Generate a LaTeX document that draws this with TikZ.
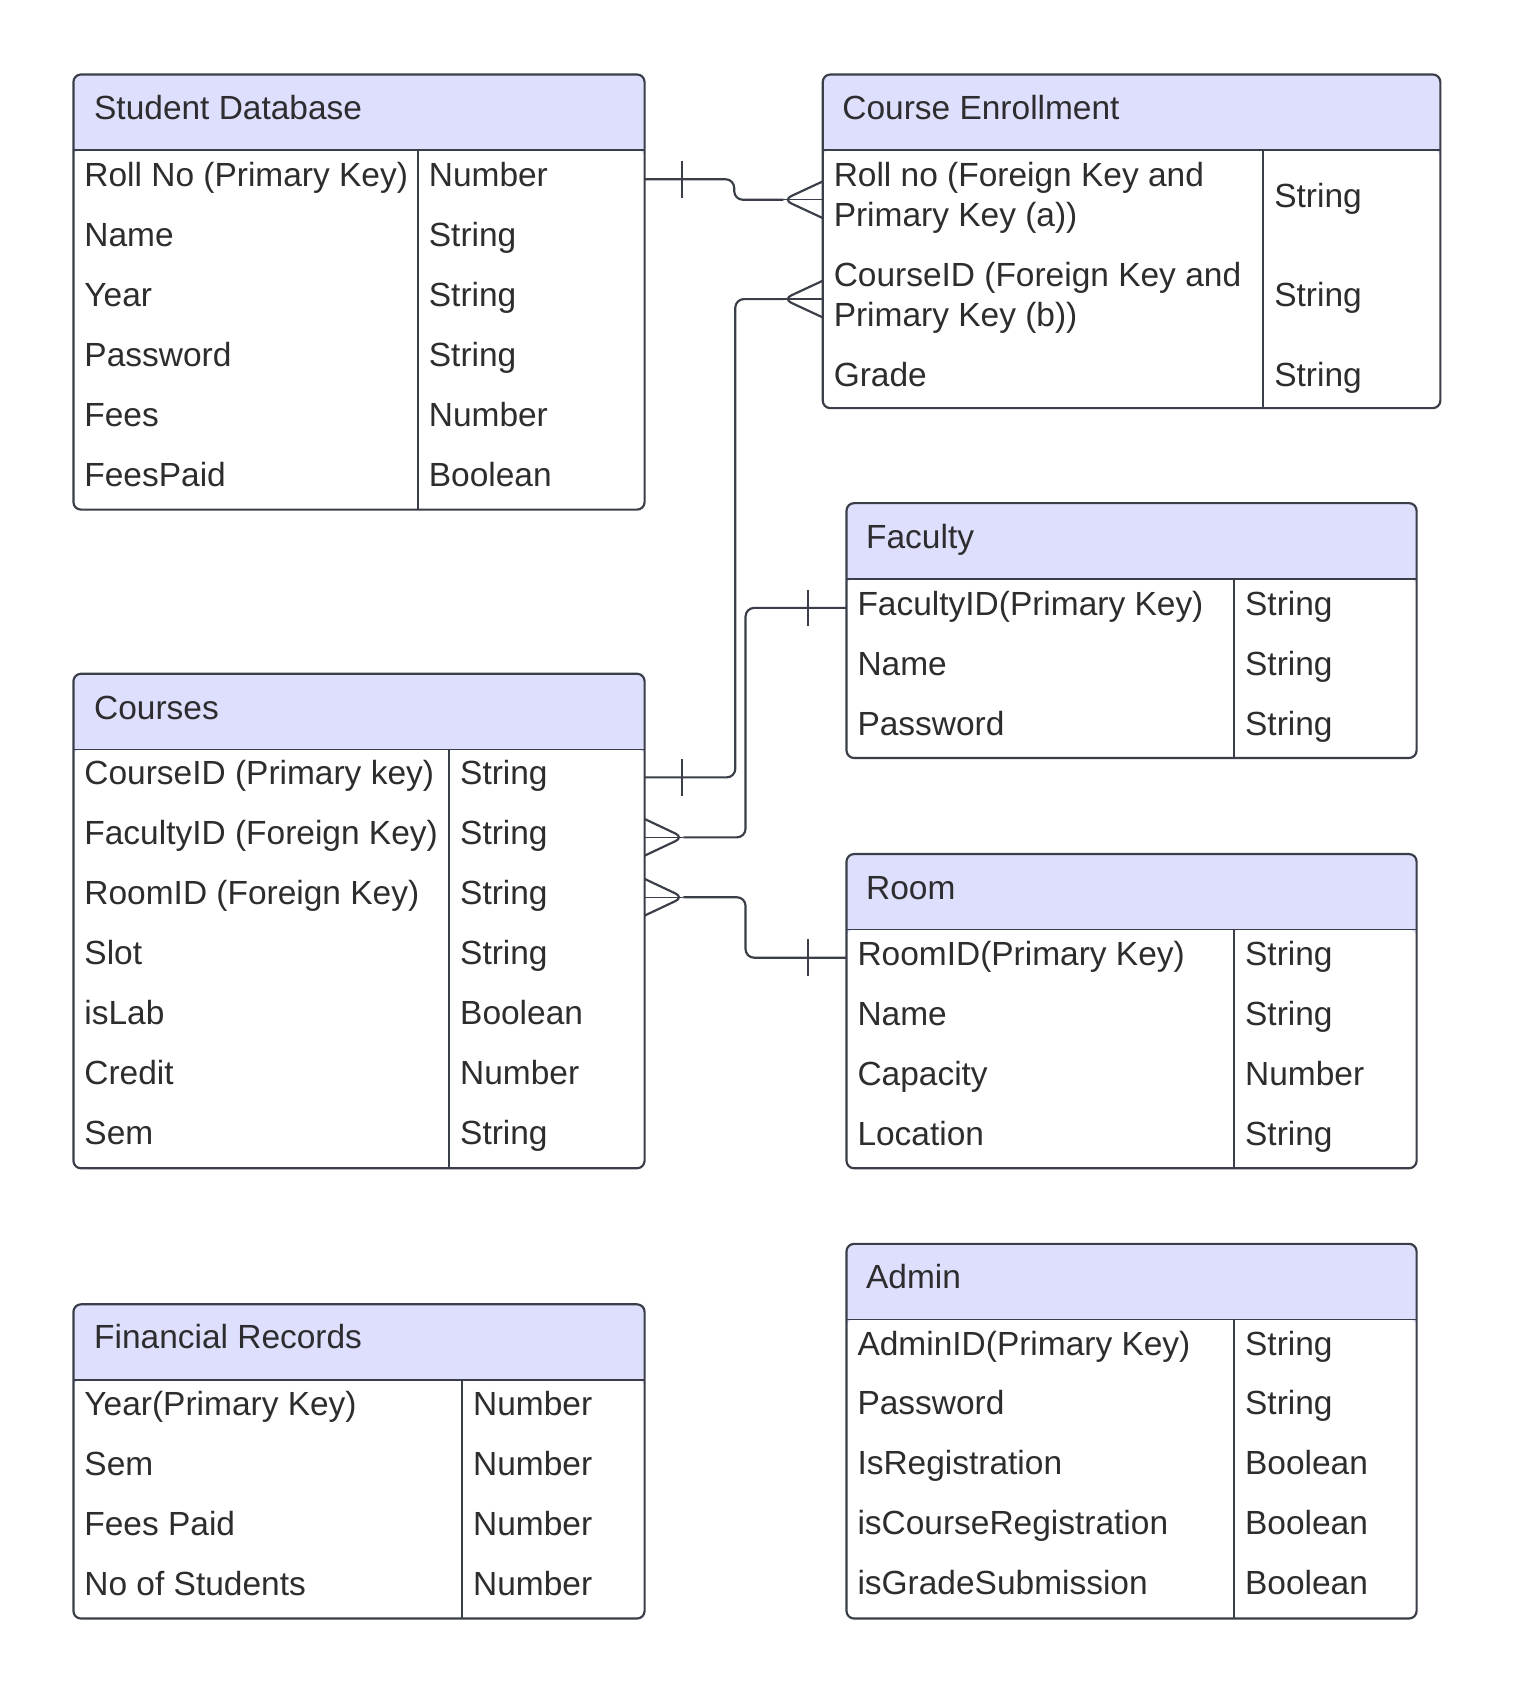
\documentclass[tikz,border=0pt]{standalone}
\usepackage{fontspec}
\setmainfont{Liberation Sans}
\usepackage{tikz}
\usetikzlibrary{calc}
\definecolor{hdr}{RGB}{222,223,252}
\definecolor{lineC}{RGB}{58,62,72}
\definecolor{ink}{RGB}{45,45,48}

\begin{document}
\begin{tikzpicture}[x=1pt,y=-1pt,font=\fontsize{31}{37}\selectfont]
  \tikzstyle{entity} = [draw=lineC,line width=2pt,rounded corners=7pt,fill=hdr,inner sep=0pt,outer sep=0pt,anchor=north west,
    path picture={\fill[white] ([yshift=-70pt]path picture bounding box.north west) rectangle (path picture bounding box.south east);}]
  \tikzstyle{sepline} = [draw=lineC,line width=1.5pt]
  \tikzstyle{tname} = [anchor=base west,inner sep=0pt,text=ink]
  \tikzstyle{field} = [anchor=base west,inner sep=0pt,text=ink,align=left]
  \tikzstyle{rel} = [draw=lineC,line width=2pt,rounded corners=8pt]
  \tikzstyle{thinrel} = [draw=lineC,line width=1.2pt]
  %
  \fill[white] (0,0) rectangle (1405,1568);
  \useasboundingbox (0,0) rectangle (1405,1568);

  % Student Database.
  \node[entity,minimum width=529pt,minimum height=403pt] (stud) at (68,69) {};
  \draw[sepline] (68,139) -- (597,139) (387,139) -- (387,472);
  \node[tname] (studT) at (87,111) {Student Database};
  \node[field] (studR1) at (78,173) {Roll No (Primary Key)}; \node[field] (studT1) at (397,173) {Number};
  \node[field] (studR2) at (78,228.5) {Name};                \node[field] (studT2) at (397,228.5) {String};
  \node[field] (studR3) at (78,284) {Year};                  \node[field] (studT3) at (397,284) {String};
  \node[field] (studR4) at (78,339.5) {Password};            \node[field] (studT4) at (397,339.5) {String};
  \node[field] (studR5) at (78,395) {Fees};                  \node[field] (studT5) at (397,395) {Number};
  \node[field] (studR6) at (78,450.5) {FeesPaid};            \node[field] (studT6) at (397,450.5) {Boolean};

  % Course Enrollment.
  \node[entity,minimum width=572pt,minimum height=309pt] (enr) at (762,69) {};
  \draw[sepline] (762,139) -- (1334,139) (1170,139) -- (1170,378);
  \node[tname] (enrT) at (780,111) {Course Enrollment};
  \node[field] (enrR1) at (772,210) {Roll no (Foreign Key and\\Primary Key (a))}; \node[field] (enrT1) at (1180,192) {String};
  \node[field] (enrR2) at (772,302) {CourseID (Foreign Key and\\Primary Key (b))}; \node[field] (enrT2) at (1180,284) {String};
  \node[field] (enrR3) at (772,358) {Grade};                                        \node[field] (enrT3) at (1180,358) {String};

  % Faculty.
  \node[entity,minimum width=528pt,minimum height=236pt] (fac) at (784,466) {};
  \draw[sepline] (784,536) -- (1312,536) (1143,536) -- (1143,702);
  \node[tname] (facT) at (802,508) {Faculty};
  \node[field] (facR1) at (794,570) {FacultyID(Primary Key)}; \node[field] (facT1) at (1153,570) {String};
  \node[field] (facR2) at (794,625.5) {Name};                 \node[field] (facT2) at (1153,625.5) {String};
  \node[field] (facR3) at (794,681) {Password};               \node[field] (facT3) at (1153,681) {String};

  % Courses.
  \node[entity,minimum width=529pt,minimum height=458pt] (crs) at (68,624) {};
  \draw[sepline] (68,694) -- (597,694) (416,694) -- (416,1082);
  \node[tname] (crsT) at (87,666) {Courses};
  \node[field] (crsR1) at (78,727) {CourseID (Primary key)};   \node[field] (crsT1) at (426,727) {String};
  \node[field] (crsR2) at (78,782.5) {FacultyID (Foreign Key)}; \node[field] (crsT2) at (426,782.5) {String};
  \node[field] (crsR3) at (78,838) {RoomID (Foreign Key)};     \node[field] (crsT3) at (426,838) {String};
  \node[field] (crsR4) at (78,893.5) {Slot};                   \node[field] (crsT4) at (426,893.5) {String};
  \node[field] (crsR5) at (78,949) {isLab};                    \node[field] (crsT5) at (426,949) {Boolean};
  \node[field] (crsR6) at (78,1004.5) {Credit};                \node[field] (crsT6) at (426,1004.5) {Number};
  \node[field] (crsR7) at (78,1060) {Sem};                     \node[field] (crsT7) at (426,1060) {String};

  % Room.
  \node[entity,minimum width=528pt,minimum height=291pt] (room) at (784,791) {};
  \draw[sepline] (784,861) -- (1312,861) (1143,861) -- (1143,1082);
  \node[tname] (roomT) at (802,833) {Room};
  \node[field] (roomR1) at (794,894) {RoomID(Primary Key)}; \node[field] (roomT1) at (1153,894) {String};
  \node[field] (roomR2) at (794,949.5) {Name};              \node[field] (roomT2) at (1153,949.5) {String};
  \node[field] (roomR3) at (794,1005) {Capacity};           \node[field] (roomT3) at (1153,1005) {Number};
  \node[field] (roomR4) at (794,1060.5) {Location};         \node[field] (roomT4) at (1153,1060.5) {String};

  % Admin.
  \node[entity,minimum width=528pt,minimum height=347pt] (adm) at (784,1152) {};
  \draw[sepline] (784,1222) -- (1312,1222) (1143,1222) -- (1143,1499);
  \node[tname] (admT) at (802,1193) {Admin};
  \node[field] (admR1) at (794,1255) {AdminID(Primary Key)}; \node[field] (admT1) at (1153,1255) {String};
  \node[field] (admR2) at (794,1310.5) {Password};           \node[field] (admT2) at (1153,1310.5) {String};
  \node[field] (admR3) at (794,1366) {IsRegistration};       \node[field] (admT3) at (1153,1366) {Boolean};
  \node[field] (admR4) at (794,1421.5) {isCourseRegistration}; \node[field] (admT4) at (1153,1421.5) {Boolean};
  \node[field] (admR5) at (794,1477) {isGradeSubmission};    \node[field] (admT5) at (1153,1477) {Boolean};

  % Financial Records.
  \node[entity,minimum width=529pt,minimum height=291pt] (fin) at (68,1208) {};
  \draw[sepline] (68,1278) -- (597,1278) (428,1278) -- (428,1499);
  \node[tname] (finT) at (87,1249) {Financial Records};
  \node[field] (finR1) at (78,1311) {Year(Primary Key)}; \node[field] (finT1) at (438,1311) {Number};
  \node[field] (finR2) at (78,1366.5) {Sem};            \node[field] (finT2) at (438,1366.5) {Number};
  \node[field] (finR3) at (78,1422) {Fees Paid};        \node[field] (finT3) at (438,1422) {Number};
  \node[field] (finR4) at (78,1477.5) {No of Students}; \node[field] (finT4) at (438,1477.5) {Number};

  % Link ends, on the box edges.
  \coordinate (studK) at ($(stud.east |- studR1.base)+(0,-7)$);
  \coordinate (enrA) at ($(enr.west |- enrT1.base)+(0,-7)$);
  \coordinate (enrB) at ($(enr.west |- enrT2.base)+(0,-7)$);
  \coordinate (crsK) at ($(crs.east |- crsR1.base)+(0,-7)$);
  \coordinate (crsF) at ($(crs.east |- crsR2.base)+(0,-7)$);
  \coordinate (crsR) at ($(crs.east |- crsR3.base)+(0,-7)$);
  \coordinate (facK) at ($(fac.west |- facR1.base)+(0,-7)$);
  \coordinate (roomK) at ($(room.west |- roomR1.base)+(0,-7)$);

  % Roll no link.
  \draw[rel] (studK) -- ++(83,0) |- ($(enrA)+(-36.5,0)$);
  \draw[rel] ($(studK)+(35,-17)$) -- ++(0,34);
  \draw[rel] ($(enrA)+(0,-17)$) -- ++(-36.5,17) -- ++(36.5,17);
  \draw[thinrel] ($(enrA)+(-36.5,0)$) -- (enrA);

  % CourseID link.
  \draw[rel] (crsK) -- ++(84,0) |- ($(enrB)+(-36.5,0)$);
  \draw[rel] ($(crsK)+(35,-17)$) -- ++(0,34);
  \draw[rel] ($(enrB)+(0,-17)$) -- ++(-36.5,17) -- ++(36.5,17);
  \draw[thinrel] ($(enrB)+(-36.5,0)$) -- (enrB);

  % FacultyID link.
  \draw[rel] (facK) -- ++(-93.5,0) |- ($(crsF)+(36,0)$);
  \draw[rel] ($(facK)+(-36,-17)$) -- ++(0,34);
  \draw[rel] ($(crsF)+(0,-17)$) -- ++(36,17) -- ++(-36,17);
  \draw[thinrel] ($(crsF)+(36,0)$) -- (crsF);

  % RoomID link.
  \draw[rel] ($(crsR)+(36,0)$) -- ++(57.5,0) |- (roomK);
  \draw[rel] ($(roomK)+(-36,-17)$) -- ++(0,34);
  \draw[rel] ($(crsR)+(0,-17)$) -- ++(36,17) -- ++(-36,17);
  \draw[thinrel] ($(crsR)+(36,0)$) -- (crsR);
\end{tikzpicture}
\end{document}
